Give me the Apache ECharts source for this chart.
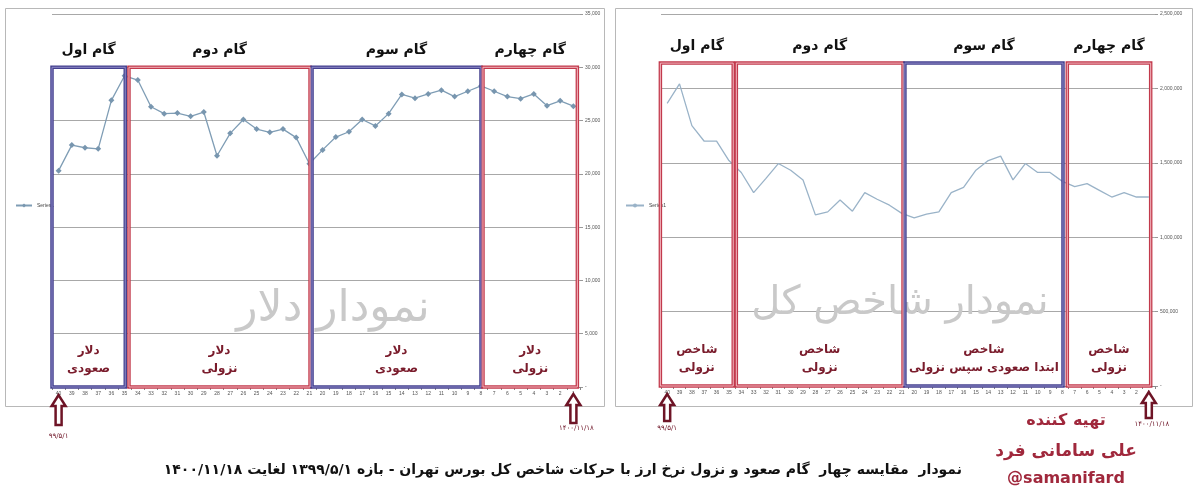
<!DOCTYPE html>
<html><head><meta charset="utf-8">
<script src="https://cdn.jsdelivr.net/npm/echarts@6/dist/echarts.min.js"></script>
<style>html,body{margin:0;padding:0;background:#fff}#c{width:1200px;height:499px}</style>
</head><body><div id="c"></div>
<script>
// ---------- data ----------
const categories = ['40','39','38','37','36','35','34','33','32','31','30','29','28','27','26','25','24','23','22','21','20','19','18','17','16','15','14','13','12','11','10','9','8','7','6','5','4','3','2','1'];
const dollarValues = [20300,22700,22450,22350,26900,29200,28800,26300,25650,25700,25400,25800,21700,23800,25100,24200,23900,24200,23400,20950,22250,23450,23950,25100,24500,25650,27450,27100,27500,27850,27250,27750,28250,27750,27250,27050,27500,26400,26850,26350];
const indexValues = [1900000,2030000,1750000,1645000,1645000,1515000,1435000,1300000,1395000,1495000,1450000,1385000,1150000,1170000,1250000,1175000,1300000,1255000,1215000,1160000,1130000,1155000,1170000,1300000,1335000,1450000,1515000,1545000,1385000,1495000,1435000,1435000,1375000,1340000,1360000,1315000,1270000,1300000,1270000,1270000];
const dollarRange = [0, 35000, 5000];
const indexRange = [0, 2500000, 500000];
const stepTitles = ['گام اول','گام دوم','گام سوم','گام چهارم'];
const dollarNotes = [['دلار','صعودی'],['دلار','نزولی'],['دلار','صعودی'],['دلار','نزولی']];
const indexNotes = [['شاخص','نزولی'],['شاخص','نزولی'],['شاخص','ابتدا صعودی سپس نزولی'],['شاخص','نزولی']];
// step boxes: [from category index, to category index, kind]
const dollarBoxes = [[-0.5,5.05,'b'],[5.33,19.05,'r'],[19.2,32.0,'b'],[32.15,39.3,'r']];
const indexBoxes = [[-0.55,5.35,'r'],[5.6,19.1,'r'],[19.25,32.05,'b'],[32.4,39.15,'r']];
const dollarBoxTop = 30000;
const indexBoxTop = 2170000;
const startDate = '۹۹/۵/۱';
const endDate = '۱۴۰۰/۱۱/۱۸';
const title = 'نمودار  مقایسه چهار  گام صعود و نزول نرخ ارز با حرکات شاخص کل بورس تهران - بازه ۱۳۹۹/۵/۱ لغایت ۱۴۰۰/۱۱/۱۸';
const authorLines = ['تهیه کننده','علی سامانی فرد','@samanifard'];
const watermarks = ['نمودار دلار','نمودار شاخص کل'];

// ---------- chart ----------
const FA = '"DejaVu Sans", sans-serif';
const chart = echarts.init(document.getElementById('c'), null, {renderer:'canvas'});
function fmt(v){ return v === 0 ? '-' : v.toLocaleString('en-US'); }
function xAxis(g){
  return {type:'category', gridIndex:g, data:categories, boundaryGap:true,
    axisLine:{lineStyle:{color:'#888',width:1}},
    axisTick:{show:true,length:3,lineStyle:{color:'#888'}},
    axisLabel:{fontSize:5,color:'#555',margin:4,interval:0}};
}
function yAxis(g, r){
  return {type:'value', gridIndex:g, position:'right', min:r[0], max:r[1], interval:r[2],
    axisLine:{show:false}, axisTick:{show:true,length:3,lineStyle:{color:'#999'}},
    splitLine:{lineStyle:{color:'#a8a8a8',width:1}},
    axisLabel:{fontSize:5,color:'#555',margin:5,formatter:fmt}};
}
chart.setOption({
  animation:false,
  backgroundColor:'#fff',
  grid:[{left:52,top:14,width:528,height:373},{left:661,top:14,width:494,height:372}],
  xAxis:[xAxis(0),xAxis(1)],
  yAxis:[yAxis(0,dollarRange),yAxis(1,indexRange)],
  legend:[
    {data:['Series1'],left:10,top:198,itemWidth:16,itemHeight:5,textStyle:{fontSize:5,color:'#444'},itemGap:2},
    {data:['Series1b'],left:620,top:198,itemWidth:18,itemHeight:5,formatter:()=> 'Series1',textStyle:{fontSize:5,color:'#444'}}
  ],
  series:[
    {name:'Series1',type:'line',xAxisIndex:0,yAxisIndex:0,data:dollarValues,symbol:'diamond',symbolSize:6,
      lineStyle:{color:'#7f9db5',width:1.3},itemStyle:{color:'#7896af'}},
    {name:'Series1b',type:'line',xAxisIndex:1,yAxisIndex:1,data:indexValues,symbol:'none',
      lineStyle:{color:'#9ab3c8',width:1.3},itemStyle:{color:'#9ab3c8'}}
  ]
});

function px(g, idx, val){
  const a = chart.convertToPixel({xAxisIndex:g,yAxisIndex:g},[0,val]);
  const b = chart.convertToPixel({xAxisIndex:g,yAxisIndex:g},[1,val]);
  return [a[0] + (b[0]-a[0])*idx, a[1]];
}
const G = [];
// frames
G.push({type:'rect',shape:{x:5.5,y:8.5,width:599,height:398},style:{fill:null,stroke:'#b8b8b8',lineWidth:1},z:1});
G.push({type:'rect',shape:{x:615.5,y:8.5,width:577,height:398},style:{fill:null,stroke:'#b8b8b8',lineWidth:1},z:1});
// watermarks
G.push({type:'text',x:333,y:310,style:{text:watermarks[0],font:'44px '+FA,fill:'#c9c9c9',align:'center',verticalAlign:'middle'},z:2});
G.push({type:'text',x:900,y:304,style:{text:watermarks[1],font:'40px '+FA,fill:'#c9c9c9',align:'center',verticalAlign:'middle'},z:2});

function boxes(g, list, top, notes){
  list.forEach((bx,i)=>{
    const p1 = px(g,bx[0],top), p2 = px(g,bx[1],0);
    const x=p1[0], y=p1[1], w=p2[0]-p1[0], h=p2[1]-p1[1];
    const outer = bx[2]==='b' ? '#45418f' : '#c23a4c';
    const inner = bx[2]==='b' ? '#8f8cc8' : '#f2b8c0';
    G.push({type:'rect',shape:{x:x,y:y,width:w,height:h},style:{fill:null,stroke:outer,lineWidth:3.5},z:5});
    G.push({type:'rect',shape:{x:x,y:y,width:w,height:h},style:{fill:null,stroke:inner,lineWidth:1},z:6});
    const cx = x + w/2;
    G.push({type:'text',x:cx,y:y-17,style:{text:stepTitles[i],font:'bold 14px '+FA,fill:'#111',align:'center',verticalAlign:'middle'},z:7});
    G.push({type:'text',x:cx,y:p2[1]-36,style:{text:notes[i][0],font:'bold 12px '+FA,fill:'#7a1c2c',align:'center',verticalAlign:'middle'},z:7});
    G.push({type:'text',x:cx,y:p2[1]-18,style:{text:notes[i][1],font:'bold 12px '+FA,fill:'#7a1c2c',align:'center',verticalAlign:'middle'},z:7});
  });
}
boxes(0, dollarBoxes, dollarBoxTop, dollarNotes);
boxes(1, indexBoxes, indexBoxTop, indexNotes);

function arrow(x, tip, len){
  return {type:'polygon',shape:{points:[[x,tip],[x-7,tip+11],[x-3,tip+11],[x-3,tip+len],[x+3,tip+len],[x+3,tip+11],[x+7,tip+11]]},
    style:{fill:'#fff',stroke:'#6e1426',lineWidth:2.5},z:8};
}
[[0,0,395,30,436],[0,39,394,29,428],[1,0,394,27,428],[1,39,392,26,424]].forEach(a=>{
  const p = px(a[0],a[1],0);
  G.push(arrow(p[0],a[2],a[3]));
  G.push({type:'text',x:p[0]+(a[1]===39?3:0),y:a[4],style:{text:a[1]===0?startDate:endDate,font:'7px '+FA,fill:'#6e1426',align:'center',verticalAlign:'middle'},z:8});
});
// author
G.push({type:'text',x:1066,y:421,style:{text:authorLines[0],font:'bold 16px '+FA,fill:'#a0283c',align:'center',verticalAlign:'middle'},z:8});
G.push({type:'text',x:1066,y:452,style:{text:authorLines[1],font:'bold 17px '+FA,fill:'#a0283c',align:'center',verticalAlign:'middle'},z:8});
G.push({type:'text',x:1066,y:479,style:{text:authorLines[2],font:'bold 16px '+FA,fill:'#a0283c',align:'center',verticalAlign:'middle'},z:8});
// bottom title
G.push({type:'text',x:962,y:470,style:{text:title,font:'bold 14px '+FA,fill:'#111',align:'right',verticalAlign:'middle'},z:8});
chart.setOption({graphic:G});
</script></body></html>
